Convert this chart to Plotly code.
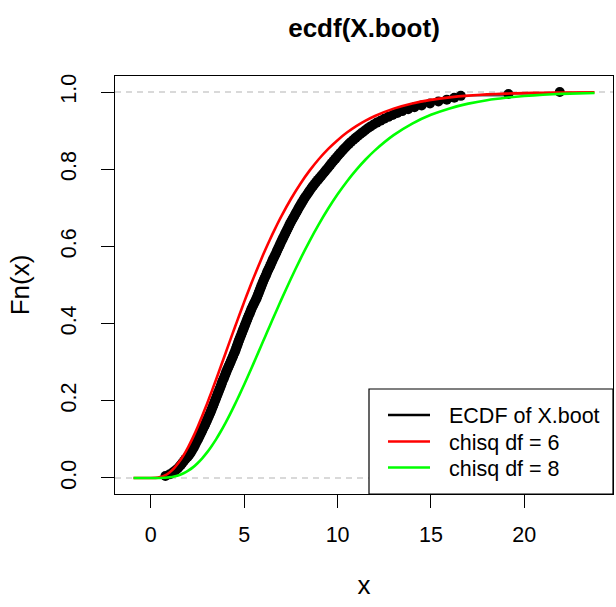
import numpy as np
import plotly.graph_objects as go

# ---- data ----
x_boot = [
    0.78, 1.02, 1.18, 1.32, 1.44, 1.53, 1.62, 1.70, 1.78, 1.86,
    1.97, 2.05, 2.12, 2.18, 2.24, 2.30, 2.35, 2.40, 2.45, 2.51,
    2.56, 2.61, 2.66, 2.71, 2.76, 2.80, 2.86, 2.91, 2.95, 3.00,
    3.04, 3.09, 3.13, 3.18, 3.22, 3.26, 3.30, 3.34, 3.38, 3.42,
    3.46, 3.50, 3.54, 3.58, 3.62, 3.66, 3.70, 3.74, 3.78, 3.81,
    3.85, 3.90, 3.94, 3.98, 4.02, 4.06, 4.10, 4.15, 4.19, 4.24,
    4.28, 4.32, 4.37, 4.41, 4.45, 4.50, 4.54, 4.57, 4.61, 4.65,
    4.68, 4.72, 4.76, 4.80, 4.84, 4.88, 4.92, 4.96, 5.00, 5.04,
    5.08, 5.12, 5.16, 5.20, 5.24, 5.29, 5.33, 5.37, 5.41, 5.46,
    5.51, 5.56, 5.61, 5.66, 5.70, 5.74, 5.78, 5.82, 5.86, 5.90,
    5.94, 5.98, 6.02, 6.06, 6.11, 6.16, 6.20, 6.24, 6.29, 6.34,
    6.39, 6.43, 6.48, 6.52, 6.57, 6.62, 6.67, 6.72, 6.76, 6.81,
    6.86, 6.91, 6.95, 7.00, 7.05, 7.10, 7.15, 7.20, 7.25, 7.30,
    7.35, 7.40, 7.45, 7.50, 7.56, 7.62, 7.68, 7.73, 7.79, 7.85,
    7.90, 7.96, 8.02, 8.08, 8.14, 8.20, 8.27, 8.34, 8.41, 8.48,
    8.55, 8.62, 8.70, 8.78, 8.86, 8.95, 9.03, 9.12, 9.20, 9.29,
    9.37, 9.46, 9.54, 9.62, 9.70, 9.79, 9.88, 9.96, 10.05, 10.14,
    10.23, 10.32, 10.42, 10.52, 10.62, 10.73, 10.85, 10.97, 11.09, 11.22,
    11.35, 11.48, 11.62, 11.77, 11.93, 12.10, 12.30, 12.50, 12.72, 12.95,
    13.20, 13.46, 13.78, 14.12, 14.50, 14.95, 15.40, 15.85, 16.25, 16.60,
    19.15, 21.90,
]

curve_x = [-0.93, 0.0, 0.25, 0.5, 0.75, 1.0, 1.25, 1.5, 1.75, 2.0, 2.25, 2.5, 2.75,
           3.0, 3.25, 3.5, 3.75, 4.0, 4.25, 4.5, 4.75, 5.0, 5.25, 5.5, 5.75, 6.0,
           6.25, 6.5, 6.75, 7.0, 7.5, 8.0, 8.5, 9.0, 9.5, 10.0, 10.5, 11.0, 11.5,
           12.0, 13.0, 14.0, 15.0, 16.0, 17.0, 18.0, 19.0, 20.0, 21.0, 22.0, 23.76]
chisq6_y = [0.0, 0.0, 0.0003, 0.0022, 0.0066, 0.0144, 0.0256, 0.0405, 0.0587, 0.0803,
            0.1045, 0.1315, 0.1606, 0.1912, 0.2231, 0.2560, 0.2894, 0.3233, 0.3571,
            0.3907, 0.4237, 0.4562, 0.4878, 0.5185, 0.5482, 0.5768, 0.6042, 0.6304,
            0.6554, 0.6792, 0.7229, 0.7619, 0.7963, 0.8264, 0.8527, 0.8753, 0.8949,
            0.9116, 0.9259, 0.9380, 0.9570, 0.9704, 0.9797, 0.9862, 0.9907, 0.9938,
            0.9958, 0.9972, 0.9982, 0.9988, 0.9994]
chisq8_y = [0.0, 0.0, 0.0000, 0.0001, 0.0006, 0.0018, 0.0038, 0.0073, 0.0122, 0.0190,
            0.0275, 0.0383, 0.0511, 0.0656, 0.0824, 0.1008, 0.1211, 0.1429, 0.1661,
            0.1906, 0.2160, 0.2424, 0.2694, 0.2969, 0.3248, 0.3528, 0.3807, 0.4086,
            0.4361, 0.4634, 0.5162, 0.5665, 0.6138, 0.6577, 0.6981, 0.7350, 0.7683,
            0.7983, 0.8251, 0.8488, 0.8882, 0.9182, 0.9409, 0.9576, 0.9699, 0.9788,
            0.9851, 0.9897, 0.9929, 0.9951, 0.9975]

x_ticks = [0, 5, 10, 15, 20]
y_ticks = [0.0, 0.2, 0.4, 0.6, 0.8, 1.0]
y_tick_labels = ["0.0", "0.2", "0.4", "0.6", "0.8", "1.0"]
legend_names = ["ECDF of X.boot", "chisq df = 6", "chisq df = 8"]
legend_colors = ["black", "#FF0000", "#00FF00"]

# ---- figure ----
W, H = 616, 607
L, R, T, B = 115, 3, 76, 113
PW, PH = W - L - R, H - T - B

def px_x(p):  # pixel -> paper x
    return (p - L) / PW

def px_y(p):  # pixel -> paper y
    return (H - B - p) / PH

xs = np.sort(np.array(x_boot))
fn = np.arange(1, len(xs) + 1) / len(xs)

FONT = "Liberation Sans, Arial, Helvetica, sans-serif"
FS = 21.5

fig = go.Figure()
fig.add_trace(go.Scatter(x=xs, y=fn, mode="lines", line=dict(color="black", width=1, shape="hv"),
                         showlegend=False, hoverinfo="skip"))
fig.add_trace(go.Scatter(x=xs, y=fn, mode="markers", marker=dict(color="black", size=10, line=dict(width=0)),
                         name=legend_names[0], showlegend=False))
fig.add_trace(go.Scatter(x=curve_x, y=chisq6_y, mode="lines", name=legend_names[1],
                         line=dict(color="#FF0000", width=2.6, shape="spline", smoothing=0.6),
                         showlegend=False))
fig.add_trace(go.Scatter(x=curve_x, y=chisq8_y, mode="lines", name=legend_names[2],
                         line=dict(color="#00FF00", width=2.6, shape="spline", smoothing=0.6),
                         showlegend=False))

for yv in (0, 1):
    fig.add_shape(type="line", xref="paper", x0=0, x1=1, yref="y", y0=yv, y1=yv,
                  line=dict(color="#B3B3B3", width=1.2, dash="6px,5px"), layer="below")

# legend box (R-style, bottom right)
fig.add_shape(type="rect", xref="paper", yref="paper", x0=px_x(369), x1=1.0, y0=0.0, y1=px_y(389),
              line=dict(color="black", width=1.2), fillcolor="white", layer="above")
row_y = [415, 441.5, 467.5]
for name, col, ry in zip(legend_names, legend_colors, row_y):
    fig.add_shape(type="line", xref="paper", yref="paper", x0=px_x(388), x1=px_x(430),
                  y0=px_y(ry), y1=px_y(ry), line=dict(color=col, width=2.6), layer="above")
    fig.add_annotation(xref="paper", yref="paper", x=px_x(447), y=px_y(ry + 1), text=name,
                       showarrow=False, xanchor="left", yanchor="middle",
                       font=dict(size=FS, color="black"))

fig.update_layout(
    width=W, height=H,
    margin=dict(l=L, r=R, t=T, b=B),
    paper_bgcolor="white", plot_bgcolor="white",
    font=dict(family=FONT, size=FS, color="black"),
    title=dict(text="<b>ecdf(X.boot)</b>", x=364 / W, xanchor="center",
               y=1 - 28 / H, yanchor="middle", font=dict(size=26)),
    showlegend=False,
)
fig.update_xaxes(range=[-1.92, 24.75], tickvals=x_ticks, ticks="outside", ticklen=13, tickwidth=1.2,
                 tickcolor="black", showline=True, linecolor="black", linewidth=1.2, mirror=True,
                 showgrid=False, zeroline=False, ticklabelstandoff=8, automargin=False,
                 title=dict(text="x", standoff=29))
fig.update_yaxes(range=[-0.0415, 1.0415], tickvals=y_ticks, ticktext=y_tick_labels, ticks="outside",
                 ticklen=13, tickwidth=1.2, tickcolor="black", showline=True, linecolor="black",
                 linewidth=1.2, mirror=True, showgrid=False, zeroline=False, tickangle=-90,
                 ticklabelstandoff=16, automargin=False, title=dict(text="Fn(x)", standoff=20))

fig.write_html("out.html", config={"displayModeBar": False},
               post_script="document.body.style.margin='0px';document.body.style.overflow='hidden';")
